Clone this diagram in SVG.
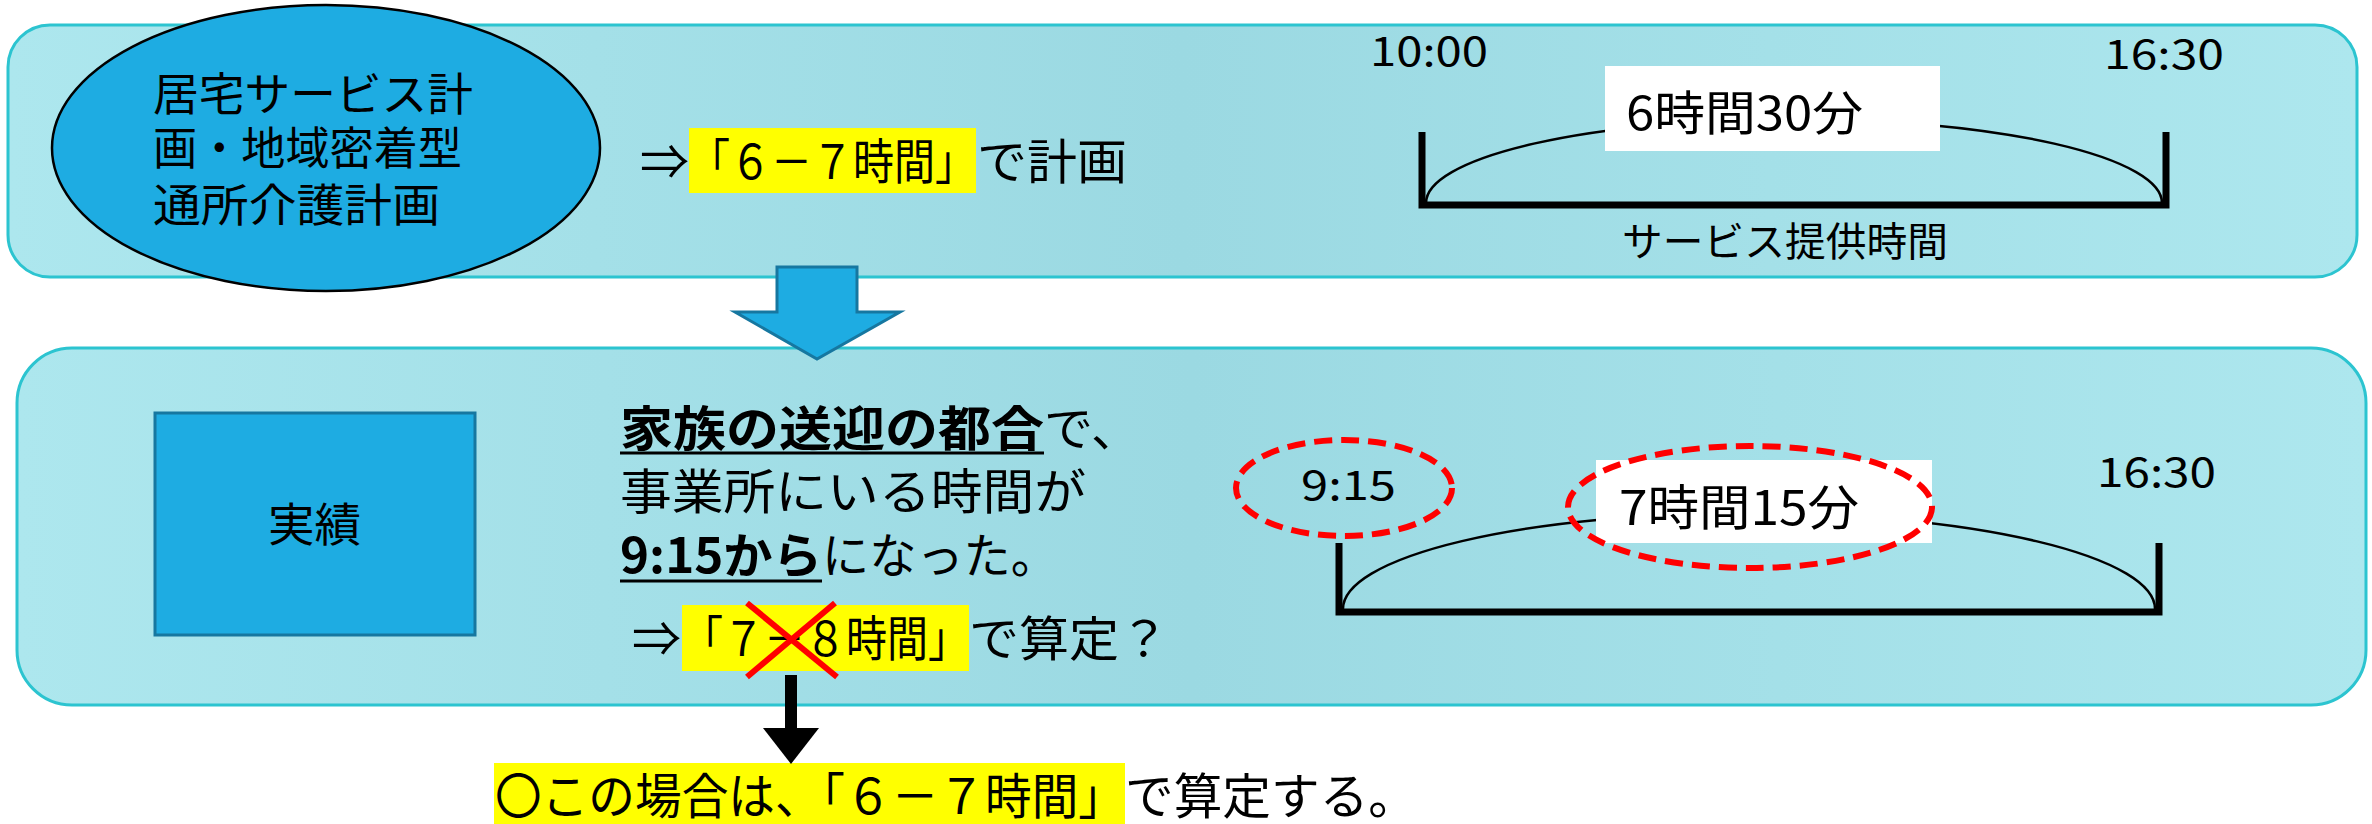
<svg xmlns="http://www.w3.org/2000/svg" width="2372" height="824" viewBox="0 0 2372 824">
<defs>
<linearGradient id="pg" x1="0" y1="0" x2="1" y2="0">
<stop offset="0" stop-color="#ade7ee"/>
<stop offset="0.5" stop-color="#9bd9e2"/>
<stop offset="1" stop-color="#ade7ee"/>
</linearGradient>
<style>
.panel{fill:url(#pg);stroke:#2cc4d0;stroke-width:3}
.blue{fill:#1eace2;stroke:#1677a0;stroke-width:3}
.t{font-family:"Noto Sans CJK JP","Liberation Sans",sans-serif;fill:#000}
.b{font-weight:bold}
.hl{fill:#ffff00}
.bracket{fill:none;stroke:#000;stroke-width:7;stroke-linejoin:miter}
.arc{fill:none;stroke:#000;stroke-width:2.5}
.red{fill:none;stroke:#ff0000;stroke-width:6;stroke-dasharray:18 9}
.ul{stroke:#000;stroke-width:3}
</style>
</defs>
<rect width="2372" height="824" fill="#fff"/>

<g id="panel-plan">
<rect class="panel" x="8" y="25" width="2349" height="252" rx="42"/>
</g>
<g id="panel-actual">
<rect class="panel" x="17" y="348" width="2349" height="357" rx="55"/>
</g>

<g id="plan-ellipse">
<ellipse cx="326" cy="148" rx="274" ry="143" fill="#1eace2" stroke="#000" stroke-width="2.5"/>
<text class="t" font-size="45" x="153" y="111" textLength="320" lengthAdjust="spacingAndGlyphs">居宅サービス計</text>
<text class="t" font-size="45" x="153" y="165" textLength="309" lengthAdjust="spacingAndGlyphs">画・地域密着型</text>
<text class="t" font-size="45" x="153" y="222" textLength="287" lengthAdjust="spacingAndGlyphs">通所介護計画</text>
</g>

<g id="plan-text">
<rect class="hl" x="689" y="128" width="287" height="65"/>
<text class="t" font-size="48" x="640" y="179" textLength="49" lengthAdjust="spacingAndGlyphs">⇒</text>
<text class="t" font-size="48" x="689" y="179" textLength="287" lengthAdjust="spacingAndGlyphs">「６－７時間」</text>
<text class="t" font-size="48" x="977" y="179" textLength="150" lengthAdjust="spacingAndGlyphs">で計画</text>
</g>

<g id="plan-timeline">
<text class="t" font-size="40" x="1370" y="66" textLength="118" lengthAdjust="spacingAndGlyphs">10:00</text>
<text class="t" font-size="40" x="2104" y="69" textLength="120" lengthAdjust="spacingAndGlyphs">16:30</text>
<path class="arc" d="M1426,203 A368,84 0 0 1 2162,203"/>
<path class="bracket" d="M1422,132 V205 H2166 V132"/>
<rect x="1605" y="66" width="335" height="85" fill="#fff"/>
<text class="t" font-size="47" x="1626" y="130" textLength="237" lengthAdjust="spacingAndGlyphs">6時間30分</text>
<text class="t" font-size="40" x="1622" y="256" textLength="326" lengthAdjust="spacingAndGlyphs">サービス提供時間</text>
</g>

<g id="actual-box">
<rect class="blue" x="155" y="413" width="320" height="222"/>
<text class="t" font-size="46" x="268" y="541" textLength="93" lengthAdjust="spacingAndGlyphs">実績</text>
</g>

<g id="actual-text">
<text class="t b" font-size="48" x="620" y="446" textLength="424" lengthAdjust="spacingAndGlyphs">家族の送迎の都合</text>
<text class="t" font-size="48" x="1044" y="446" textLength="96" lengthAdjust="spacingAndGlyphs">で、</text>
<line class="ul" x1="620" y1="453" x2="1044" y2="453"/>
<text class="t" font-size="48" x="620" y="509" textLength="466" lengthAdjust="spacingAndGlyphs">事業所にいる時間が</text>
<text class="t b" font-size="48" x="620" y="573" textLength="202" lengthAdjust="spacingAndGlyphs">9:15から</text>
<text class="t" font-size="48" x="822" y="573" textLength="236" lengthAdjust="spacingAndGlyphs">になった。</text>
<line class="ul" x1="620" y1="581" x2="822" y2="581"/>
<rect class="hl" x="682" y="605" width="287" height="66"/>
<text class="t" font-size="48" x="632" y="656" textLength="49" lengthAdjust="spacingAndGlyphs">⇒</text>
<text class="t" font-size="48" x="682" y="656" textLength="287" lengthAdjust="spacingAndGlyphs">「７－８時間」</text>
<text class="t" font-size="48" x="969" y="656" textLength="200" lengthAdjust="spacingAndGlyphs">で算定？</text>
<line x1="747" y1="603" x2="837" y2="677" stroke="#ff0000" stroke-width="6"/>
<line x1="835" y1="603" x2="747" y2="677" stroke="#ff0000" stroke-width="6"/>
</g>

<g id="actual-timeline">
<text class="t" font-size="41" x="1301" y="500" textLength="95" lengthAdjust="spacingAndGlyphs">9:15</text>
<text class="t" font-size="41" x="2097" y="487" textLength="119" lengthAdjust="spacingAndGlyphs">16:30</text>
<path class="arc" d="M1343,609 A406,96 0 0 1 2155,609"/>
<path class="bracket" d="M1339,543 V612 H2159 V543"/>
<rect x="1596" y="460" width="336" height="83" fill="#fff"/>
<text class="t" font-size="48" x="1619" y="525" textLength="240" lengthAdjust="spacingAndGlyphs">7時間15分</text>
<ellipse class="red" cx="1344" cy="488" rx="108" ry="48"/>
<ellipse class="red" cx="1750" cy="507" rx="182" ry="61"/>
</g>

<g id="conclusion">
<rect class="hl" x="494" y="763" width="631" height="61"/>
<text class="t" font-size="49" x="495" y="814" textLength="630" lengthAdjust="spacingAndGlyphs">〇この場合は、「６－７時間」</text>
<text class="t" font-size="49" x="1125" y="814" textLength="292" lengthAdjust="spacingAndGlyphs">で算定する。</text>
</g>

<g id="connectors">
<path d="M777,267 H857 V312 H900 L817,359 L735,312 H777 Z" fill="#1eace2" stroke="#1677a0" stroke-width="3"/>
<rect x="785" y="675" width="12" height="54" fill="#000"/>
<polygon points="763,728 819,728 791,764" fill="#000"/>
</g>
</svg>
